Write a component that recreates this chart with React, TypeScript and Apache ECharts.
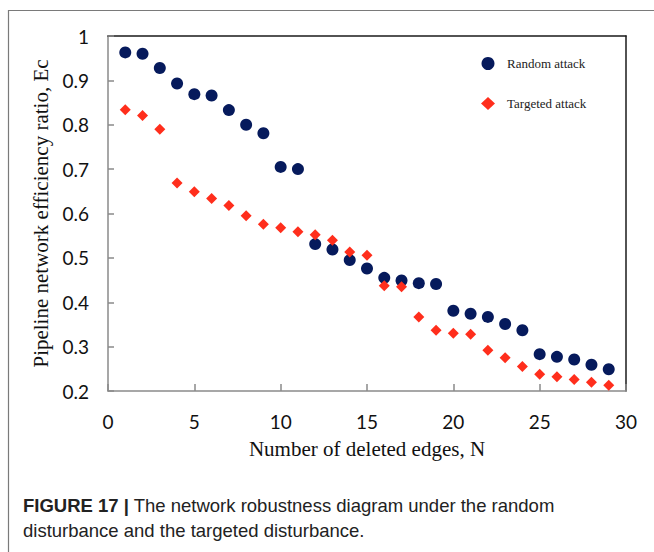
import React, { useEffect, useRef } from "react";
import * as echarts from "echarts";

// Number of deleted edges N = 1..29
const edges: number[] = [
  1, 2, 3, 4, 5, 6, 7, 8, 9, 10, 11, 12, 13, 14, 15, 16, 17, 18, 19, 20, 21, 22, 23, 24, 25, 26, 27, 28, 29,
];

// Pipeline network efficiency ratio Ec under random attack
const randomAttack: number[] = [
  0.963, 0.96, 0.928, 0.893, 0.869, 0.866, 0.833, 0.8, 0.781, 0.705, 0.7, 0.531, 0.519, 0.495, 0.476,
  0.455, 0.449, 0.443, 0.441, 0.381, 0.374, 0.367, 0.351, 0.337, 0.283, 0.277, 0.271, 0.259, 0.249,
];

// Pipeline network efficiency ratio Ec under targeted attack
const targetedAttack: number[] = [
  0.834, 0.821, 0.79, 0.669, 0.649, 0.634, 0.618, 0.595, 0.576, 0.568, 0.559, 0.552, 0.54, 0.513, 0.506,
  0.437, 0.435, 0.367, 0.337, 0.33, 0.328, 0.292, 0.275, 0.255, 0.238, 0.232, 0.226, 0.22, 0.213,
];

const seriesNames: string[] = ["Random attack", "Targeted attack"];
const xTitle = "Number of deleted edges, N";
const yTitle = "Pipeline network efficiency ratio, Ec";
const captionBold = "FIGURE 17 |";
const captionLine1 = " The network robustness diagram under the random";
const captionLine2 = "disturbance and the targeted disturbance.";

const NAVY = "#061a5c";
const RED = "#ff2e1c";
const SERIF = "'Liberation Serif', 'DejaVu Serif', serif";
const SANS = "Lato, 'Open Sans', sans-serif";
const CAPTION = "'Liberation Sans', Arial, sans-serif";

export default function App() {
  const ref = useRef<HTMLDivElement>(null);

  useEffect(() => {
    document.body.style.margin = "0";
    if (!ref.current) return;
    const chart = echarts.init(ref.current, null, { renderer: "svg" });

    const pairs = (ys: number[]) => edges.map((x, i) => [x, ys[i]]);

    chart.setOption({
      animation: false,
      backgroundColor: "#ffffff",
      grid: { left: 108, top: 36, width: 518, height: 355, containLabel: false },
      legend: {
        orient: "vertical",
        left: 476,
        top: 52,
        itemGap: 27,
        itemWidth: 14,
        itemHeight: 13,
        selectedMode: false,
        textStyle: { fontFamily: SERIF, fontSize: 13, color: "#222", padding: [0, 0, 0, 7] },
        data: [
          { name: seriesNames[0], icon: "circle" },
          { name: seriesNames[1], icon: "diamond" },
        ],
      },
      xAxis: [
        {
          type: "value",
          min: 0,
          max: 30,
          interval: 5,
          name: xTitle,
          nameLocation: "middle",
          nameGap: 47,
          nameTextStyle: { fontFamily: SERIF, fontSize: 21, color: "#111" },
          axisLine: { show: true, lineStyle: { color: "#8a8a8a", width: 1.5 } },
          axisTick: { show: true, inside: true, length: 7, lineStyle: { color: "#8a8a8a", width: 1.5 } },
          axisLabel: { fontFamily: SANS, fontSize: 19, color: "#111", margin: 21 },
          splitLine: { show: false },
        },
        {
          type: "value",
          position: "top",
          min: 0,
          max: 30,
          axisLine: { show: true, onZero: false, lineStyle: { color: "#1a1a1a", width: 1.5 } },
          axisTick: { show: false },
          axisLabel: { show: false },
          splitLine: { show: false },
        },
      ],
      yAxis: [
        {
          type: "value",
          min: 0.2,
          max: 1,
          interval: 0.1,
          name: yTitle,
          nameLocation: "middle",
          nameGap: 57,
          nameTextStyle: { fontFamily: SERIF, fontSize: 21, color: "#111" },
          axisLine: { show: true, lineStyle: { color: "#8a8a8a", width: 1.5 } },
          axisTick: { show: true, inside: true, length: 6, lineStyle: { color: "#8a8a8a", width: 1.5 } },
          axisLabel: {
            fontFamily: SANS,
            fontSize: 19,
            color: "#111",
            margin: 19,
            formatter: (v: number) => String(Math.round(v * 10) / 10),
          },
          splitLine: { show: false },
        },
        {
          type: "value",
          position: "right",
          min: 0.2,
          max: 1,
          axisLine: { show: true, onZero: false, lineStyle: { color: "#1a1a1a", width: 1.5 } },
          axisTick: { show: false },
          axisLabel: { show: false },
          splitLine: { show: false },
        },
      ],
      series: [
        {
          name: seriesNames[0],
          type: "scatter",
          symbol: "circle",
          symbolSize: 12,
          itemStyle: { color: NAVY, opacity: 1 },
          data: pairs(randomAttack),
          z: 3,
        },
        {
          name: seriesNames[1],
          type: "scatter",
          symbol: "diamond",
          symbolSize: 11,
          itemStyle: { color: RED, opacity: 1 },
          data: pairs(targetedAttack),
          z: 4,
        },
      ],
      graphic: [
        { type: "line", shape: { x1: 8, y1: 10.5, x2: 654, y2: 10.5 }, style: { stroke: "#7a7a7a", lineWidth: 1.2 } },
        { type: "line", shape: { x1: 8.5, y1: 10, x2: 8.5, y2: 552 }, style: { stroke: "#7a7a7a", lineWidth: 1.2 } },
        {
          type: "text",
          left: 23,
          top: 496,
          style: {
            text: `{b|${captionBold}}{n|${captionLine1}}\n{n|${captionLine2}}`,
            rich: {
              b: { fontFamily: CAPTION, fontSize: 18.5, fontWeight: "bold", fill: "#222", lineHeight: 25 },
              n: { fontFamily: CAPTION, fontSize: 18.5, fill: "#222", lineHeight: 25 },
            },
          },
        },
      ],
    });

    return () => chart.dispose();
  }, []);

  return <div ref={ref} style={{ width: 654, height: 552 }} />;
}
